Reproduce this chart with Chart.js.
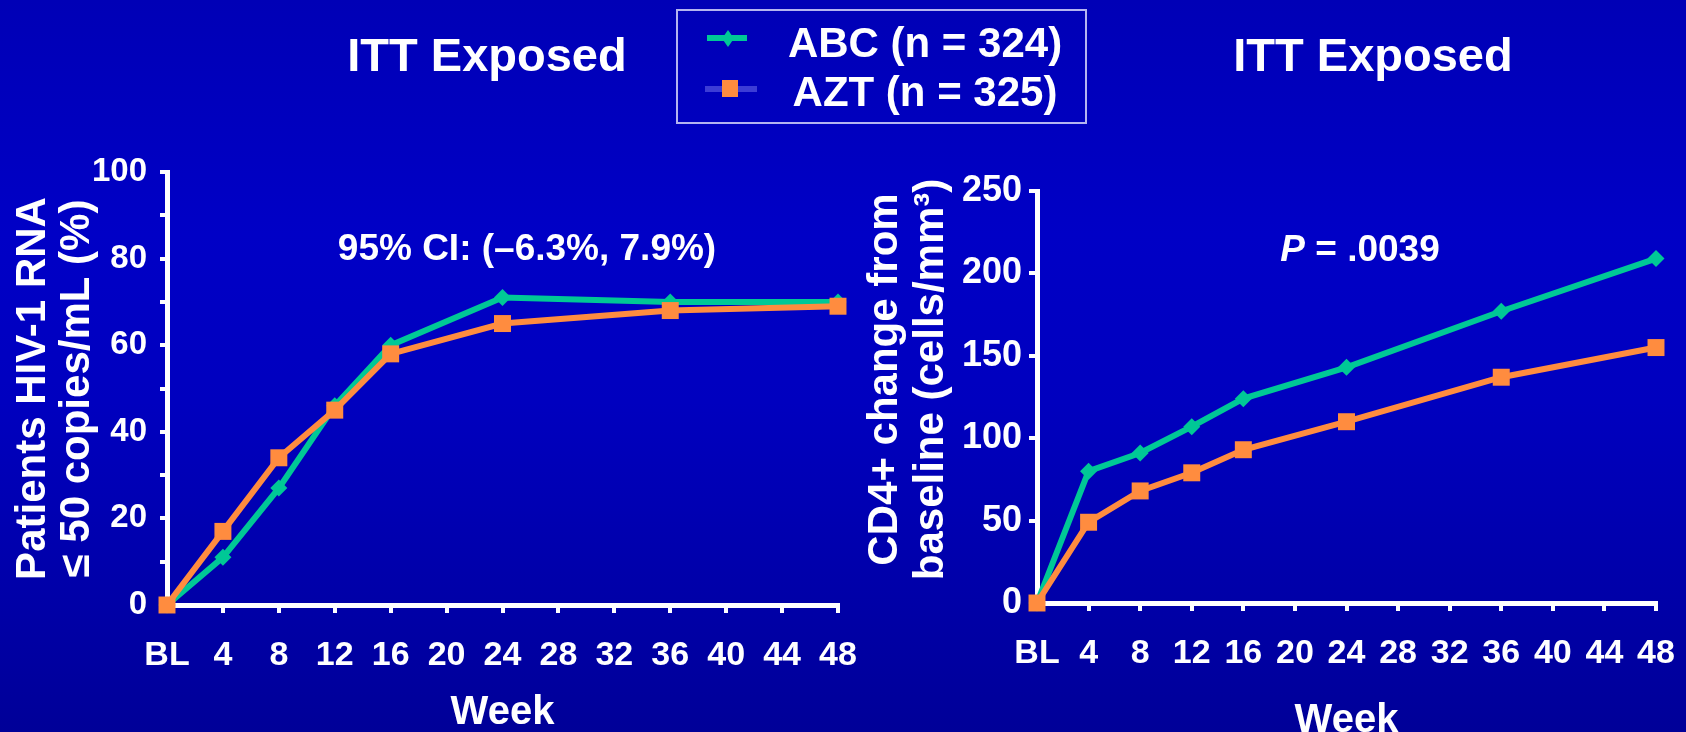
<!DOCTYPE html>
<html>
<head>
<meta charset="utf-8">
<title>ITT Exposed – ABC vs AZT</title>
<script src="https://cdn.jsdelivr.net/npm/chart.js@4.4.1/dist/chart.umd.min.js"></script>
<style>
  html, body { margin: 0; padding: 0; }
  body {
    width: 1686px; height: 732px; overflow: hidden; position: relative;
    background: linear-gradient(to bottom, #0000b6 0%, #0000c6 32%, #0000bf 55%, #000098 100%);
    font-family: "Liberation Sans", Arial, sans-serif; font-weight: bold; color: #fff;
  }
  canvas { position: absolute; left: 0; top: 0; }
  .txt { position: absolute; white-space: nowrap; line-height: 1; transform: translateX(-50%); }
  .title { font-size: 47px; top: 31px; }
  .note { font-size: 37px; }
  .legend-box {
    position: absolute; left: 676px; top: 9px; width: 411px; height: 115px;
    box-sizing: border-box; border: 2px solid #b4b4f0;
  }
  .legend-text { font-size: 42px; }
  .sym { position: absolute; }
</style>
</head>
<body>
<canvas id="rnaChart" width="1686" height="740" style="width:1686px;height:740px"></canvas>
<canvas id="cd4Chart" width="1686" height="740" style="width:1686px;height:740px"></canvas>

<div class="txt title" style="left:487px">ITT Exposed</div>
<div class="txt title" style="left:1373px">ITT Exposed</div>

<div class="legend-box"></div>
<div class="sym" style="left:707px;top:35px;width:40px;height:6px;background:#00c896"></div>
<div class="sym" style="left:722px;top:30px;width:12px;height:17px;background:#00c896;clip-path:polygon(50% 0,100% 50%,50% 100%,0 50%)"></div>
<div class="sym" style="left:705px;top:86px;width:52px;height:6px;background:#3c3cd6"></div>
<div class="sym" style="left:722px;top:80px;width:16px;height:17px;background:#ff8c3f"></div>
<div class="txt legend-text" id="legAbc" style="left:925px;top:22px"></div>
<div class="txt legend-text" id="legAzt" style="left:925px;top:71px"></div>

<div class="txt note" style="left:527px;top:229px">95% CI: (–6.3%, 7.9%)</div>
<div class="txt note" style="left:1360px;top:230px"><i>P</i> = .0039</div>

<script>
// Study weeks at which both arms were measured
const weeks = [0, 4, 8, 12, 16, 24, 36, 48];

// Patients with HIV-1 RNA ≤ 50 copies/mL (%)
const abcRna = [0, 11, 27, 46, 60, 71, 70, 70];
const aztRna = [0, 17, 34, 45, 58, 65, 68, 69];

// CD4+ change from baseline (cells/mm³)
const abcCd4 = [0, 80, 91, 107, 124, 143, 177, 209];
const aztCd4 = [0, 49, 68, 79, 93, 110, 137, 155];

// Axis ticks and labels
const weekTicks = [0, 4, 8, 12, 16, 20, 24, 28, 32, 36, 40, 44, 48];
const weekLabels = ['BL', '4', '8', '12', '16', '20', '24', '28', '32', '36', '40', '44', '48'];
const rnaTicks = [0, 10, 20, 30, 40, 50, 60, 70, 80, 90, 100];
const rnaLabels = ['0', '', '20', '', '40', '', '60', '', '80', '', '100'];
const cd4Ticks = [0, 50, 100, 150, 200, 250];
const cd4Labels = ['0', '50', '100', '150', '200', '250'];

const seriesNames = ['ABC (n = 324)', 'AZT (n = 325)'];

const GREEN = '#00c896';
const ORANGE = '#ff8c3f';
const WHITE = '#ffffff';

Chart.defaults.color = WHITE;
Chart.defaults.font.family = '"Liberation Sans", Arial, sans-serif';
Chart.defaults.font.weight = 'bold';

document.getElementById('legAbc').textContent = seriesNames[0];
document.getElementById('legAzt').textContent = seriesNames[1];

function points(values) {
  return values.map((v, i) => ({ x: weeks[i], y: v }));
}

function buildChart(id, cfg) {
  return new Chart(document.getElementById(id), {
    type: 'line',
    data: {
      datasets: [
        {
          label: seriesNames[0], data: points(cfg.abc),
          borderColor: GREEN, backgroundColor: GREEN, borderWidth: 6,
          pointStyle: 'rectRot', pointRadius: 8.5, pointBorderWidth: 0,
          pointBackgroundColor: GREEN, tension: 0, clip: false, order: 1
        },
        {
          label: seriesNames[1], data: points(cfg.azt),
          borderColor: ORANGE, backgroundColor: ORANGE, borderWidth: 6,
          pointStyle: 'rect', pointRadius: 12, pointBorderWidth: 0,
          pointBackgroundColor: ORANGE, tension: 0, clip: false, order: 0
        }
      ]
    },
    options: {
      responsive: false,
      animation: false,
      devicePixelRatio: 1,
      events: [],
      layout: { padding: cfg.padding },
      plugins: { legend: { display: false }, tooltip: { enabled: false } },
      scales: {
        x: {
          type: 'linear', min: 0, max: 48,
          afterFit: s => { s.height = cfg.xHeight; s.paddingLeft = 0; s.paddingRight = 0; },
          afterBuildTicks: s => { s.ticks = weekTicks.map(v => ({ value: v })); },
          border: { display: true, color: WHITE, width: 5 },
          grid: { display: true, drawOnChartArea: false, drawTicks: true, tickLength: 8, color: WHITE, lineWidth: 4 },
          ticks: {
            autoSkip: false, maxRotation: 0, padding: 22,
            font: { size: 34, lineHeight: 1.2 },
            callback: (v, i) => weekLabels[i]
          },
          title: {
            display: true, text: 'Week',
            font: { size: 40, lineHeight: cfg.weekLineHeight },
            padding: { top: 0, bottom: cfg.weekPad }
          }
        },
        y: {
          type: 'linear', min: 0, max: cfg.yMax,
          afterFit: s => { s.width = cfg.yWidth; s.paddingTop = 0; s.paddingBottom = 0; },
          afterBuildTicks: s => { s.ticks = cfg.yTicks.map(v => ({ value: v })); },
          border: { display: true, color: WHITE, width: 5 },
          grid: { display: true, drawOnChartArea: false, drawTicks: true, tickLength: cfg.yTickLen, color: WHITE, lineWidth: 4 },
          ticks: {
            autoSkip: false, padding: cfg.yTickPad,
            font: { size: cfg.yTickSize, lineHeight: 1.2 },
            callback: (v, i) => cfg.yLabels[i]
          },
          title: {
            display: true, text: cfg.yTitle,
            font: { size: 42, lineHeight: cfg.yTitleLineHeight },
            padding: { top: cfg.yTitlePad, bottom: 0 }
          }
        }
      }
    }
  });
}

buildChart('rnaChart', {
  abc: abcRna, azt: aztRna,
  padding: { left: 0, top: 172, right: 848, bottom: 0 },
  xHeight: 135, yWidth: 167, yMax: 100,
  yTicks: rnaTicks, yLabels: rnaLabels,
  yTickLen: 7, yTickPad: 13, yTickSize: 33,
  yTitle: ['Patients HIV-1 RNA', '≤ 50 copies/mL (%)'],
  yTitleLineHeight: 1.05, yTitlePad: 11,
  weekLineHeight: 1.2, weekPad: 3
});

// leading spaces lift the rotated CD4 title slightly above the axis centre
buildChart('cd4Chart', {
  abc: abcCd4, azt: aztCd4,
  padding: { left: 846, top: 191, right: 30, bottom: 0 },
  xHeight: 137, yWidth: 191, yMax: 250,
  yTicks: cd4Ticks, yLabels: cd4Labels,
  yTickLen: 8, yTickPad: 7, yTickSize: 36,
  yTitle: ['   CD4+ change from', '   baseline (cells/mm³)'],
  yTitleLineHeight: 1.1, yTitlePad: 16,
  weekLineHeight: 0.95, weekPad: 0
});
</script>
</body>
</html>
